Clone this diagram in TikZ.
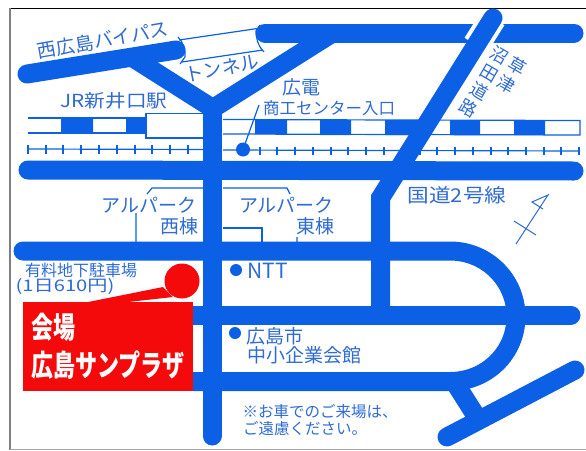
\documentclass[tikz,border=0pt]{standalone}
\usepackage{graphicx}
\usepackage{fontspec}
\setmainfont{Noto Sans CJK JP}
\definecolor{road}{HTML}{0B60E6}
\definecolor{ink}{HTML}{2F6BD3}
\definecolor{venue}{HTML}{F40A0A}
\tikzset{
  roadline/.style={draw=road,line width=19pt,line cap=round,line join=miter},
  thin line/.style={draw=#1,line width=1.2pt},
  thin line/.default=road,
  label/.style={text=ink,inner sep=0pt,font=\fontsize{#1}{#1}\selectfont},
  label/.default=19,
  stack/.style={text=ink,inner sep=0pt,rotate=-30,align=center,font=\fontsize{17.5}{20.5}\selectfont},
  venuetext/.style={text=white,inner sep=0pt,font=\fontsize{22}{22}\selectfont\bfseries}
}
\begin{document}
\begin{tikzpicture}[x=1pt,y=-1pt]
\useasboundingbox (0,0) rectangle (586,450);
\fill[white] (0,0) rectangle (586,450);
% frame
\draw[black,line width=1pt] (10,8.5) -- (586,8.5);
\draw[gray,line width=1.5pt] (10,8) -- (10,450);
\draw[gray!70,line width=1.2pt] (10,449.3) -- (586,449.3);
% JR line, left
\draw[thin line] (28,118) -- (146,118) (28,133) -- (146,133);
\fill[road] (61,118) rectangle (93,133) (126,118) rectangle (146,133);
\draw[road,line width=1.4pt] (204,113.5) -- (146,113.5) -- (146,138) -- (204,138);
% JR line, right
\draw[thin line] (223,119.5) -- (580,120.5) -- (580,135) -- (223,134);
\fill[road] (255,119.5) rectangle (287,134) (320,120) rectangle (351,135)
  (385,120) rectangle (420,135) (450,120) rectangle (480,135) (514,120) rectangle (545,135);
% tram line
\draw[thin line] (28,149) -- (204,149.5) (223,150) -- (580,151);
\foreach \x in {28,46,63,81,99,117,135,152,170,188}
  \draw[thin line] (\x,145) -- (\x,153.5);
\foreach \x in {260,277,295,313,331,348,366,384,420,437,455,473,491,508,526,544,561,579}
  \draw[thin line] (\x,146.5) -- (\x,155);
\fill[road] (243,149.5) circle (7);
\coordinate (leaderend) at (259,105);
\draw[thin line] (243,149.5) -- (leaderend);
% roads
\draw[roadline] (27,74) -- (176,50);
\draw[roadline] (265,33) -- (574,33);
\draw[roadline,line cap=butt] (130,56) -- (212,108);
\draw[roadline,line cap=butt] (212,109) -- (331,34);
\draw[roadline] (212,112) -- (212,436);
\draw[roadline] (28,170) -- (574,171);
\draw[roadline] (23,251) -- (450,251)
  .. controls (486.5,251) and (516,280) .. (516,316.5)
  .. controls (516,353) and (486.5,381.5) .. (450,381.5) -- (193,381.5);
\draw[roadline] (193,315) -- (571,315);
\draw[roadline,line cap=butt] (457,386) -- (476,416);
\draw[roadline] (447,437) -- (575,370);
\draw[white,line width=27pt,line cap=butt] (493,18) -- (476,45);
\draw[roadline,line join=miter] (493,18) -- (380.5,198) -- (380.5,305);
% tunnel
\draw[thin line] (179,40) -- (261,28) (182,62) -- (263,50);
\draw[thin line] (178,37) .. controls (183,42) and (186,50) .. (185,57) -- (180,64);
\draw[thin line] (260,25) -- (256,31) .. controls (256,38) and (258,46) .. (264,52);
% Alpark leaders
\draw[thin line] (204,188) -- (152,188) -- (147,194) (136,213) -- (136,242);
\draw[thin line] (223,188) -- (287,188) -- (290,194) (297,237) -- (297,242);
\draw[thin line] (223,228) -- (262,228) -- (262,242);
% compass
\draw[draw=ink,line width=1pt] (516,244) -- (548,195) -- (532,202) -- (543,209);
\draw[draw=ink,line width=1pt] (514,221) -- (536,235);
% venue
\fill[venue] (182,281) circle (17.5);
\fill[venue] (163,287) -- (88,302) -- (128,302) -- (173,297) -- cycle;
\fill[venue] (23,302) rectangle (193,391);
% dots
\fill[road] (236,270) circle (6);
\fill[road] (235,333) circle (6);
% labels
\node[label=19,rotate=10] (bypass) at (103,40) {西広島バイパス};
\node[label=19,rotate=11] (tunnel) at (222,68) {トンネル};
\node[label=18] (jr) at (114,101) {\scalebox{1.15}[1]{JR新井口駅}};
\node[label=19] (hiroden) at (301,87) {広電};
\node[label=16.5] (shoko) at (329,108) {商工センター入口};
\node[stack] (numata) at (484,82) {沼\\田\\道\\路};
\node[stack] (kusatsu) at (512,75) {草\\津};
\node[label=19] (route2) at (457,195) {\scalebox{1.14}[1]{国道2号線}};
\node[label=19] (alw) at (149,205) {アルパーク};
\node[label=19] (alwb) at (179,226) {西棟};
\node[label=19] (ale) at (286.5,205) {アルパーク};
\node[label=19] (aleb) at (315.5,226) {東棟};
\node[label=16] (parking) at (81,270) {有料地下駐車場};
\node[label=16] (fee) at (65,287) {\scalebox{1.26}[1]{(1日610円)}};
\node[venuetext] (kaijo) at (53,327) {\scalebox{1}[1.35]{会場}};
\node[venuetext] (plaza) at (108,365) {\scalebox{1}[1.35]{広島サンプラザ}};
\node[label=21] (ntt) at (267.5,271) {NTT};
\node[label=19] (city) at (274.5,336) {広島市};
\node[label=19] (sme) at (304,355) {中小企業会館};
\node[label=15.5] (note1) at (320,412) {※お車でのご来場は、};
\node[label=15.5] (note2) at (305,429) {ご遠慮ください。};
\end{tikzpicture}
\end{document}
